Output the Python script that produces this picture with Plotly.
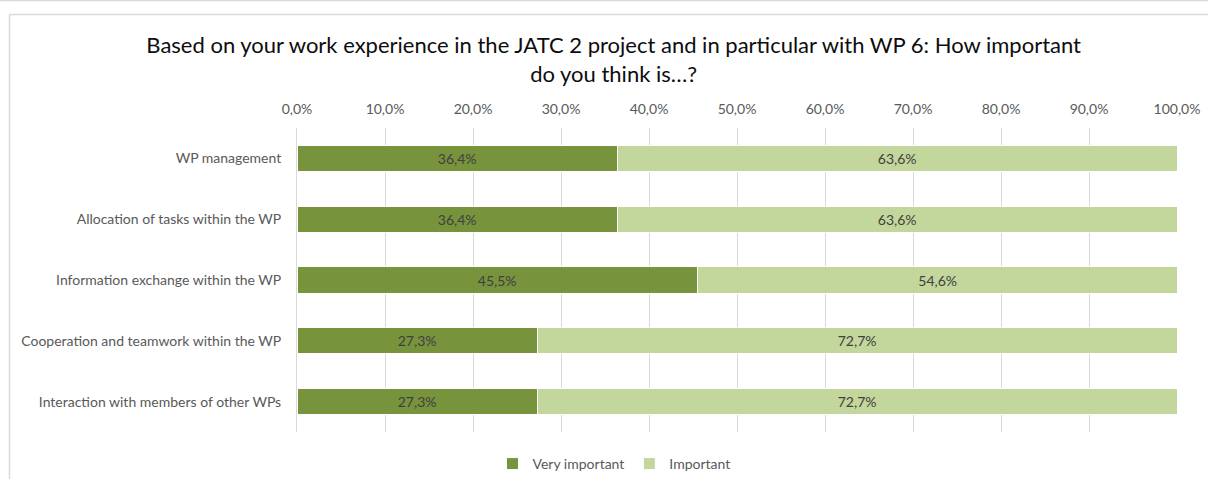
import plotly.graph_objects as go

# Survey results: share of respondents per answer, per topic
topics = [
    "WP management",
    "Allocation of tasks within the WP",
    "Information exchange within the WP",
    "Cooperation and teamwork within the WP",
    "Interaction with members of other WPs",
]
very_important = [0.364, 0.364, 0.455, 0.273, 0.273]
important = [0.636, 0.636, 0.546, 0.727, 0.727]
tick_values = [0.0, 0.1, 0.2, 0.3, 0.4, 0.5, 0.6, 0.7, 0.8, 0.9, 1.0]

FONT = "Lato"
W, H = 1208, 479
L, R, T, B = 297, 31, 128, 47

fig = go.Figure()
fig.add_trace(go.Bar(
    y=topics, x=very_important, name="Very important", orientation="h",
    marker=dict(color="#77933C", line=dict(color="white", width=1)),
    texttemplate="%{x:.1%}", textposition="inside", insidetextanchor="middle",
    textfont=dict(color="#404040", size=14, family=FONT),
))
fig.add_trace(go.Bar(
    y=topics, x=important, name="Important", orientation="h",
    marker=dict(color="#C3D69B", line=dict(color="white", width=1)),
    texttemplate="%{x:.1%}", textposition="inside", insidetextanchor="middle",
    textfont=dict(color="#404040", size=14, family=FONT),
))

pw = W - L - R
ph = H - T - B


def px_x(p):
    return (p - L) / pw


def px_y(p):
    return (H - B - p) / ph


# outer chart frame
frame = dict(type="line", xref="paper", yref="paper",
             line=dict(color="#D9D9D9", width=1.5), layer="above")
fig.update_layout(shapes=[
    dict(frame, x0=px_x(0), x1=px_x(W), y0=px_y(0.5), y1=px_y(0.5)),
    dict(frame, x0=px_x(9.5), x1=px_x(W), y0=px_y(14.5), y1=px_y(14.5)),
    dict(frame, x0=px_x(9.5), x1=px_x(9.5), y0=px_y(14.5), y1=px_y(H)),
])

fig.update_layout(
    width=W, height=H,
    margin=dict(l=L, r=R, t=T, b=B, autoexpand=False),
    paper_bgcolor="white", plot_bgcolor="white",
    barmode="stack", bargap=0.57,
    separators=",.",
    font=dict(family=FONT, color="#595959", size=14),
    title=dict(
        text="Based on your work experience in the JATC 2 project and in particular with WP 6: How important<br>do you think is…?",
        x=0.508, xanchor="center", y=1 - 53 / H, yanchor="middle",
        font=dict(family=FONT, size=22, color="#0D0D0D"),
    ),
    xaxis=dict(
        side="top", range=[0, 1], tickvals=tick_values, tickformat=".1%",
        showgrid=True, gridcolor="#D9D9D9", gridwidth=1,
        zeroline=False, showline=False, ticks="", ticklabelstandoff=10,
        tickfont=dict(size=14, color="#595959", family=FONT),
        fixedrange=True, automargin=False,
    ),
    yaxis=dict(
        autorange="reversed", showline=True, linecolor="#D9D9D9", linewidth=1,
        ticks="", ticklabelstandoff=12,
        tickfont=dict(size=14, color="#595959", family=FONT),
        fixedrange=True, automargin=False,
    ),
    legend=dict(
        orientation="h", x=px_x(614), xanchor="center",
        y=-(464 - (H - B)) / ph, yanchor="middle",
        font=dict(size=14, color="#595959", family=FONT),
        itemwidth=30, traceorder="normal",
    ),
    showlegend=True,
)

fig.write_html("out.html")
